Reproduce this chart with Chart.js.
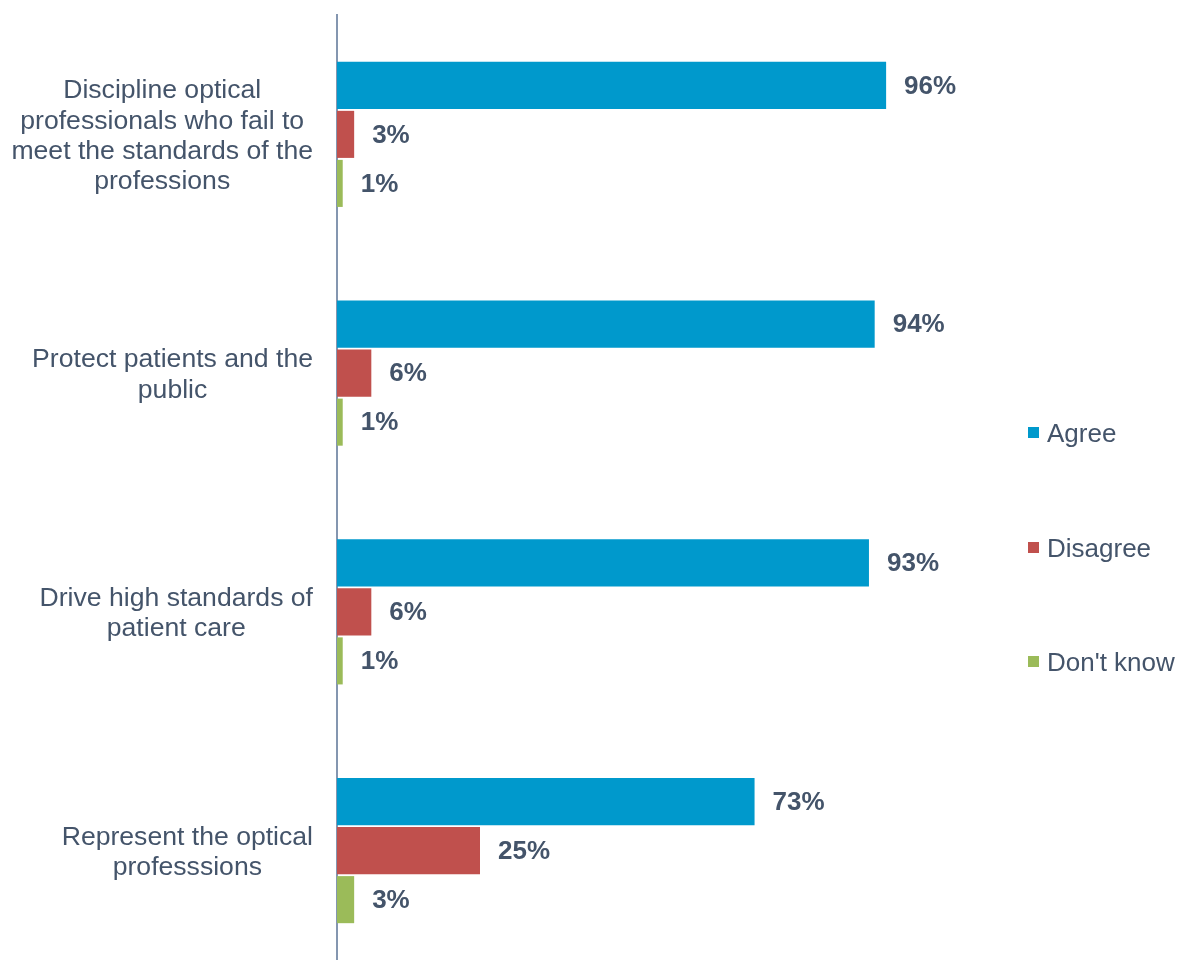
<!DOCTYPE html>
<html>
<head>
<meta charset="utf-8">
<script src="https://cdn.jsdelivr.net/npm/chart.js@4"></script>
<style>
  html, body { margin: 0; padding: 0; background: #fff; overflow: hidden; }
  #wrap { position: relative; width: 1178px; height: 960px; overflow: hidden; }
  #chart { position: absolute; left: 0; top: 0; }
  .legend { position: absolute; left: 1028px; font: 26px "Liberation Sans", Arial, sans-serif; color: #44546A; }
  .legend div { position: absolute; white-space: nowrap; line-height: 30px; height: 30px; }
  .legend span { display: inline-block; width: 11px; height: 11px; margin-right: 8px; vertical-align: 4px; }
</style>
</head>
<body>
<div id="wrap">
  <canvas id="chart" width="1178" height="970"></canvas>
  <div class="legend" id="legend"></div>
</div>
<script>
// chart data
const categories = [
  ['Discipline optical', 'professionals who fail to', 'meet the standards of the', 'professions'],
  ['Protect patients and the', 'public'],
  ['Drive high standards of', 'patient care'],
  ['Represent the optical', 'professsions']
];
const seriesNames = ['Agree', 'Disagree', "Don't know"];
const agree = [96, 94, 93, 73];
const disagree = [3, 6, 6, 25];
const dontKnow = [1, 1, 1, 3];
const colors = ['#0099CC', '#C0504D', '#9BBB59'];

const textColor = '#44546A';
const fontFamily = '"Liberation Sans", Arial, sans-serif';

// category labels: lines centred on each other, block right-aligned to the axis
const categoryLabels = {
  id: 'categoryLabels',
  afterDraw(chart) {
    const ctx = chart.ctx;
    const yScale = chart.scales.y;
    const rightEdge = chart.chartArea.left - 24;
    const lineH = 30.3;
    ctx.save();
    ctx.font = '26.6px ' + fontFamily;
    ctx.fillStyle = textColor;
    ctx.textAlign = 'center';
    ctx.textBaseline = 'middle';
    categories.forEach((lines, i) => {
      const y = yScale.getPixelForTick(i);
      const widest = Math.max(...lines.map(l => ctx.measureText(l).width));
      const cx = rightEdge - widest / 2;
      const top = y - (lines.length - 1) * lineH / 2;
      lines.forEach((l, j) => ctx.fillText(l, cx, top + j * lineH + 2));
    });
    ctx.restore();
  }
};

// value labels to the right of each bar
const valueLabels = {
  id: 'valueLabels',
  afterDatasetsDraw(chart) {
    const ctx = chart.ctx;
    ctx.save();
    ctx.font = 'bold 26px ' + fontFamily;
    ctx.fillStyle = textColor;
    ctx.textAlign = 'left';
    ctx.textBaseline = 'middle';
    chart.data.datasets.forEach((ds, di) => {
      chart.getDatasetMeta(di).data.forEach((bar, i) => {
        ctx.fillText(ds.data[i] + '%', bar.x + 18, bar.y + 1);
      });
    });
    ctx.restore();
  }
};

const ctx = document.getElementById('chart').getContext('2d');
new Chart(ctx, {
  type: 'bar',
  data: {
    labels: categories,
    datasets: [agree, disagree, dontKnow].map((d, i) => ({
      label: seriesNames[i],
      data: d,
      backgroundColor: colors[i],
      borderWidth: 0,
      categoryPercentage: 0.616,
      barPercentage: 0.96
    }))
  },
  options: {
    indexAxis: 'y',
    responsive: false,
    animation: false,
    devicePixelRatio: 1,
    layout: { padding: { left: 337, right: 269, top: 15, bottom: 0 } },
    scales: {
      x: { display: false, min: 0, max: 100 },
      y: {
        grid: { display: false },
        border: { display: true, color: '#8496B0', width: 2 },
        ticks: { display: false },
        afterFit: s => { s.width = 0; }
      }
    },
    plugins: {
      legend: { display: false },
      tooltip: { enabled: false }
    }
  },
  plugins: [categoryLabels, valueLabels]
});

// legend
const legend = document.getElementById('legend');
const legendY = [433, 548, 662];
seriesNames.forEach((name, i) => {
  const item = document.createElement('div');
  item.style.top = (legendY[i] - 15) + 'px';
  item.innerHTML = '<span style="background:' + colors[i] + '"></span>' + name;
  legend.appendChild(item);
});
</script>
</body>
</html>
